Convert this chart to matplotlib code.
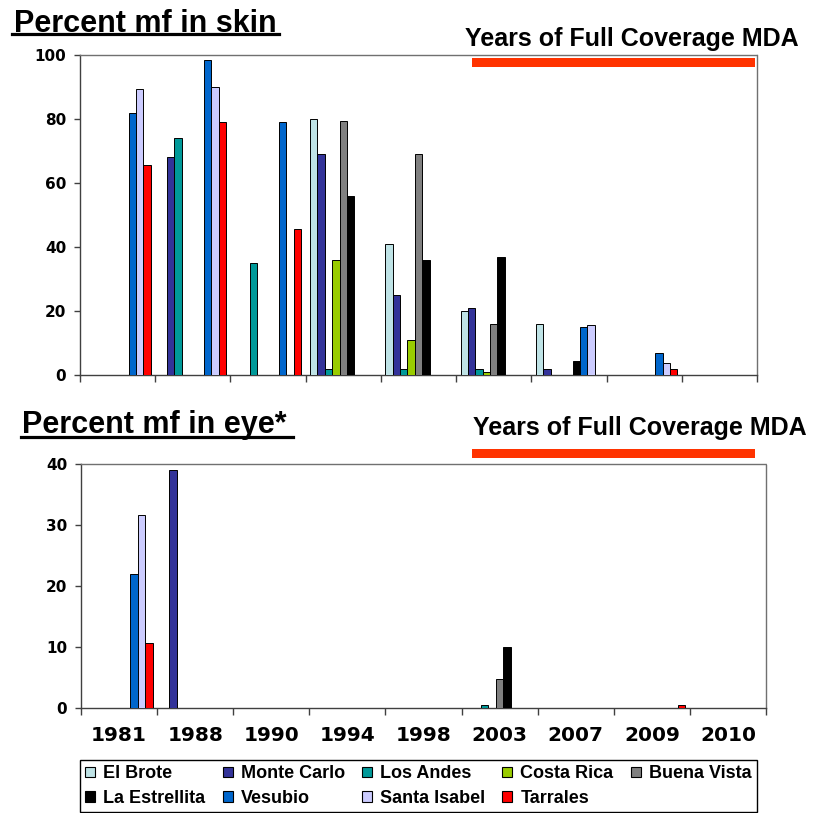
import numpy as np
import matplotlib
matplotlib.use('Agg')
import matplotlib.pyplot as plt
from matplotlib.patches import Rectangle, Patch
from matplotlib.lines import Line2D

nan = np.nan
years = ['1981', '1988', '1990', '1994', '1998', '2003', '2007', '2009', '2010']
series = ['El Brote', 'Monte Carlo', 'Los Andes', 'Costa Rica', 'Buena Vista',
          'La Estrellita', 'Vesubio', 'Santa Isabel', 'Tarrales']
colors = ['#BFE3E6', '#333399', '#009999', '#99CC00', '#808080',
          '#000000', '#0066CC', '#CCCCFF', '#FF0000']

# Percent mf in skin
skin_el_brote      = [nan, nan, nan, 80.0, 41.0, 20.0, 16.0, nan, nan]
skin_monte_carlo   = [nan, 68.0, nan, 69.0, 25.0, 21.0, 1.8, nan, nan]
skin_los_andes     = [nan, 74.0, 35.0, 2.0, 2.0, 2.0, nan, nan, nan]
skin_costa_rica    = [nan, nan, nan, 36.0, 11.0, 1.0, nan, nan, nan]
skin_buena_vista   = [nan, nan, nan, 79.5, 69.0, 16.0, nan, nan, nan]
skin_la_estrellita = [nan, nan, nan, 56.0, 36.0, 37.0, 4.4, nan, nan]
skin_vesubio       = [82.0, 98.5, 79.0, nan, nan, nan, 15.0, 7.0, nan]
skin_santa_isabel  = [89.5, 90.0, nan, nan, nan, nan, 15.5, 3.6, nan]
skin_tarrales      = [65.5, 79.0, 45.5, nan, nan, nan, nan, 2.0, nan]

# Percent mf in eye
eye_el_brote      = [nan, nan, nan, nan, nan, nan, nan, nan, nan]
eye_monte_carlo   = [nan, 39.0, nan, nan, nan, nan, nan, nan, nan]
eye_los_andes     = [nan, nan, nan, nan, nan, 0.5, nan, nan, nan]
eye_costa_rica    = [nan, nan, nan, nan, nan, nan, nan, nan, nan]
eye_buena_vista   = [nan, nan, nan, nan, nan, 4.8, nan, nan, nan]
eye_la_estrellita = [nan, nan, nan, nan, nan, 10.0, nan, nan, nan]
eye_vesubio       = [22.0, nan, nan, nan, nan, nan, nan, nan, nan]
eye_santa_isabel  = [31.7, nan, nan, nan, nan, nan, nan, nan, nan]
eye_tarrales      = [10.7, nan, nan, nan, nan, nan, nan, 0.5, nan]

skin = [skin_el_brote, skin_monte_carlo, skin_los_andes, skin_costa_rica, skin_buena_vista,
        skin_la_estrellita, skin_vesubio, skin_santa_isabel, skin_tarrales]
eye = [eye_el_brote, eye_monte_carlo, eye_los_andes, eye_costa_rica, eye_buena_vista,
       eye_la_estrellita, eye_vesubio, eye_santa_isabel, eye_tarrales]

W, H = 814, 813
fig = plt.figure(figsize=(W / 100, H / 100), dpi=100)
fig.patch.set_facecolor('white')

def fx(px):
    return px / W

def fy(py):
    return 1 - py / H

ax1 = fig.add_axes([fx(80), fy(375), (757 - 80) / W, (375 - 55) / H])
ax2 = fig.add_axes([fx(81), fy(708), (766 - 81) / W, (708 - 464) / H])

x = np.arange(len(years))
bw = 0.098
tickfont = dict(family='DejaVu Sans', weight='bold')

def draw(ax, data, ymax, ystep, show_labels):
    for i, (vals, c) in enumerate(zip(data, colors)):
        ax.bar(x + (i - 4) * bw, vals, width=bw, color=c, edgecolor='black',
               linewidth=0.7, label=series[i], zorder=3)
    ax.set_xlim(-0.5, len(years) - 0.5)
    ax.set_ylim(0, ymax)
    ax.set_yticks(np.arange(0, ymax + 0.1, ystep))
    ax.set_yticklabels([f'{int(v)}' for v in np.arange(0, ymax + 0.1, ystep)],
                       fontsize=11, **tickfont)
    ax.set_xticks(x)
    ax.set_xticks(np.arange(-0.5, len(years)), minor=True)
    if show_labels:
        ax.set_xticklabels(years, fontsize=14.5, **tickfont)
    else:
        ax.set_xticklabels([])
    ax.tick_params(axis='x', which='major', length=0, pad=13)
    ax.tick_params(axis='x', which='minor', length=5, width=1, color='#404040', direction='out')
    ax.tick_params(axis='y', length=4, width=1, color='#404040', direction='out', pad=6)
    for s in ['left', 'bottom']:
        ax.spines[s].set_color('#404040')
        ax.spines[s].set_linewidth(1.0)
    for s in ['top', 'right']:
        ax.spines[s].set_color('#707070')
        ax.spines[s].set_linewidth(1.0)
        ax.spines[s].set_linestyle((0, (1, 1)))

draw(ax1, skin, 100, 20, False)
draw(ax2, eye, 40, 10, True)

# Titles
titlefont = dict(family='Liberation Sans', weight='bold')
fig.text(fx(14), fy(31.5), 'Percent mf in skin', fontsize=22, va='baseline', ha='left', **titlefont)
fig.add_artist(Line2D([fx(12), fx(279)], [fy(34.5), fy(34.5)], color='black', linewidth=2.3,
                      transform=fig.transFigure))
fig.text(fx(22), fy(433), 'Percent mf in eye*', fontsize=22, va='baseline', ha='left', **titlefont)
fig.add_artist(Line2D([fx(21), fx(293)], [fy(437), fy(437)], color='black', linewidth=2.3,
                      transform=fig.transFigure))

fig.text(fx(465), fy(46), 'Years of Full Coverage MDA', fontsize=18, va='baseline', ha='left', **titlefont)
fig.text(fx(473), fy(435), 'Years of Full Coverage MDA', fontsize=18, va='baseline', ha='left', **titlefont)

# MDA bars
fig.add_artist(Rectangle((fx(472), fy(67.3)), (755 - 472) / W, 9.6 / H, transform=fig.transFigure,
                         facecolor='#FF3300', edgecolor='none', zorder=5))
fig.add_artist(Rectangle((fx(472), fy(458)), (755 - 472) / W, 8.7 / H, transform=fig.transFigure,
                         facecolor='#FF3300', edgecolor='none', zorder=5))

# Legend (row-wise order)
handles = [Patch(facecolor=c, edgecolor='black', linewidth=0.8) for c in colors]
order = [0, 5, 1, 6, 2, 7, 3, 8, 4]
leg = fig.legend([handles[i] for i in order], [series[i] for i in order], ncol=5,
                 loc='upper left', bbox_to_anchor=(fx(80), fy(760)),
                 bbox_transform=fig.transFigure,
                 prop=dict(family='Liberation Sans', weight='bold', size=13),
                 frameon=True, fancybox=False, edgecolor='black', framealpha=1,
                 handlelength=0.55, handleheight=0.55, handletextpad=0.45,
                 columnspacing=0.95, labelspacing=0.42, borderpad=0.3, borderaxespad=0)
leg.get_frame().set_linewidth(1.0)

fig.savefig('out.png', dpi=100, facecolor='white')
